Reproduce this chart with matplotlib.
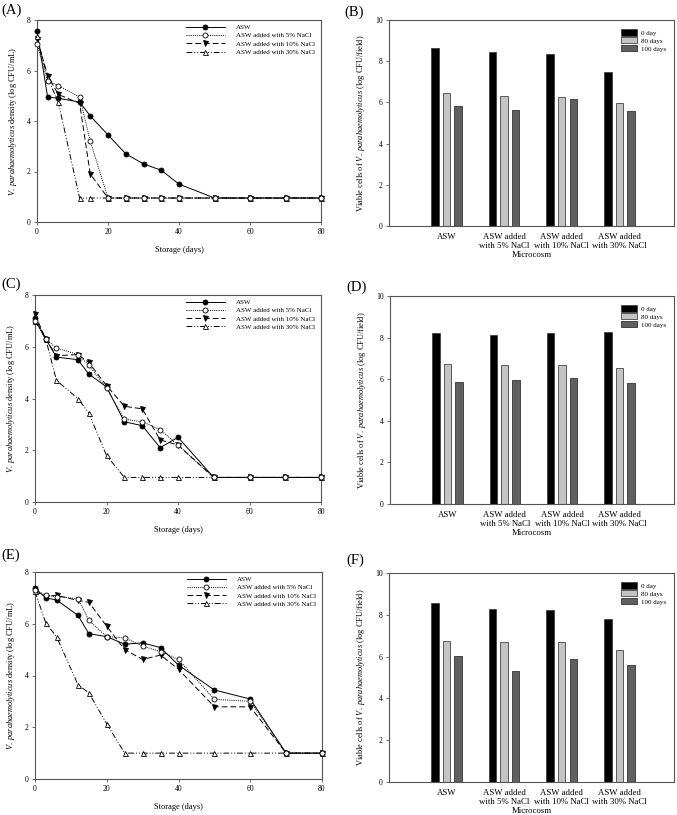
import numpy as np
import matplotlib
matplotlib.use('Agg')
import matplotlib.pyplot as plt
from matplotlib.lines import Line2D

plt.rcParams['font.family'] = ['Liberation Serif', 'DejaVu Serif']
plt.rcParams['mathtext.fontset'] = 'custom'
plt.rcParams['mathtext.rm'] = 'Liberation Serif'
plt.rcParams['mathtext.it'] = 'Liberation Serif:italic'

# Survival curves (log CFU/mL)
days = [0, 3, 6, 12, 15, 20, 25, 30, 35, 40, 50, 60, 70, 80]

asw_a = [7.55, 4.95, 4.9, 4.75, 4.2, 3.45, 2.7, 2.3, 2.05, 1.5, 0.95, 0.95, 0.95, 0.95]
n5_a = [7.05, 5.58, 5.4, 4.95, 3.2, 0.95, 0.95, 0.95, 0.95, 0.95, 0.95, 0.95, 0.95, 0.95]
n10_a = [7.25, 5.8, 5.05, 4.7, 1.9, 0.95, 0.95, 0.95, 0.95, 0.95, 0.95, 0.95, 0.95, 0.95]
n30_a = [7.35, 5.7, 4.75, 0.95, 0.95, 0.95, 0.95, 0.95, 0.95, 0.95, 0.95, 0.95, 0.95, 0.95]

asw_c = [7.1, 6.3, 5.6, 5.5, 4.95, 4.45, 3.1, 2.95, 2.1, 2.5, 0.95, 0.95, 0.95, 0.95]
n5_c = [7.0, 6.3, 5.95, 5.7, 5.3, 4.4, 3.2, 3.1, 2.8, 2.2, 0.95, 0.95, 0.95, 0.95]
n10_c = [7.25, 6.3, 5.65, 5.7, 5.4, 4.5, 3.7, 3.6, 2.4, 2.2, 0.95, 0.95, 0.95, 0.95]
n30_c = [7.0, 6.3, 4.7, 4.0, 3.45, 1.8, 0.95, 0.95, 0.95, 0.95, 0.95, 0.95, 0.95, 0.95]

asw_e = [7.37, 7.0, 6.92, 6.32, 5.62, 5.5, 5.21, 5.26, 5.08, 4.4, 3.44, 3.09, 1.0, 1.0]
n5_e = [7.3, 7.1, 7.05, 6.97, 6.13, 5.5, 5.45, 5.14, 4.92, 4.62, 3.08, 3.0, 1.0, 1.0]
n10_e = [7.25, 7.05, 7.1, 6.9, 6.83, 5.9, 5.0, 4.62, 4.79, 4.24, 2.79, 2.79, 1.0, 1.0]
n30_e = [7.25, 6.03, 5.5, 3.64, 3.33, 2.13, 1.0, 1.0, 1.0, 1.0, 1.0, 1.0, 1.0, 1.0]

series_names = ['ASW', 'ASW added with 5% NaCl', 'ASW added with 10% NaCl', 'ASW added with 30% NaCl']

# Viable cells (log CFU/field)
groups = ['ASW', 'ASW added\nwith 5% NaCl', 'ASW added\nwith 10% NaCl', 'ASW added\nwith 30% NaCl']
bar_names = ['0 day', '80 days', '100 days']
day0_b = [8.66, 8.47, 8.37, 7.48]
day80_b = [6.48, 6.30, 6.25, 5.99]
day100_b = [5.83, 5.62, 6.15, 5.60]
day0_d = [8.24, 8.13, 8.22, 8.27]
day80_d = [6.75, 6.70, 6.69, 6.54]
day100_d = [5.87, 5.98, 6.08, 5.84]
day0_f = [8.57, 8.27, 8.24, 7.82]
day80_f = [6.74, 6.71, 6.69, 6.31]
day100_f = [6.05, 5.30, 5.87, 5.62]

W, H = 677, 815
fig = plt.figure(figsize=(W / 100, H / 100), dpi=100)


def box(l, t, r, b):
    return [l / W, 1 - b / H, (r - l) / W, (b - t) / H]


frame_col = '#555555'
styles = [
    dict(ls='-', marker='o', mfc='black', mec='black'),
    dict(ls=(0, (1, 1.2)), marker='o', mfc='white', mec='black'),
    dict(ls=(0, (6, 3)), marker='v', mfc='black', mec='black'),
    dict(ls=(0, (6, 2, 1, 2, 1, 2)), marker='^', mfc='white', mec='black'),
]


def style_axes(ax):
    for s in ax.spines.values():
        s.set_color(frame_col)
        s.set_linewidth(0.8)
    ax.tick_params(direction='out', length=2.5, width=0.6, color=frame_col,
                   labelsize=5.5, pad=2)


def line_panel(rect, data):
    ax = fig.add_axes(rect)
    # draw order: ASW, 10%, 30%, 5% on top
    for i in [0, 2, 3, 1]:
        st = styles[i]
        ax.plot(days, data[i], color='black', lw=0.7, ls=st['ls'], marker=st['marker'],
                ms=3.6, mfc=st['mfc'], mec=st['mec'], mew=0.6, clip_on=False, zorder=3)
    handles = []
    for st in styles:
        handles.append(Line2D([], [], color='black', lw=0.7, ls=st['ls'], marker=st['marker'],
                              ms=3.6, mfc=st['mfc'], mec=st['mec'], mew=0.6))
    ax.set_xlim(0, 80)
    ax.set_ylim(0, 8)
    ax.set_xticks([0, 20, 40, 60, 80])
    ax.set_yticks([0, 2, 4, 6, 8])
    style_axes(ax)
    ax.set_xlabel('Storage (days)', fontsize=6, labelpad=7)
    ax.set_ylabel(r'$\it{V.\ parahaemolyticus}$ density (log CFU/mL)', fontsize=6, labelpad=6)
    ax.legend(handles, series_names, loc='upper right', frameon=False, fontsize=5,
              handlelength=5.6, handletextpad=1.6, labelspacing=0.35,
              bbox_to_anchor=(1.0, 1.01))
    return ax


def bar_panel(rect, d0, d80, d100):
    ax = fig.add_axes(rect)
    x = np.arange(len(groups))
    w = 0.13
    ax.bar(x - 0.2, d0, w, color='black', edgecolor='#333333', lw=0.5, label=bar_names[0])
    ax.bar(x, d80, w, color='#c4c4c4', edgecolor='#444444', lw=0.6, label=bar_names[1])
    ax.bar(x + 0.2, d100, w, color='#606060', edgecolor='#333333', lw=0.6, label=bar_names[2])
    ax.set_xlim(-1.0, 3.95)
    ax.set_ylim(0, 10)
    ax.set_yticks([0, 2, 4, 6, 8, 10])
    ax.set_xticks(x)
    ax.set_xticklabels(groups, fontsize=6.3, linespacing=1.15)
    style_axes(ax)
    ax.tick_params(axis='x', length=0, labelsize=6.3, pad=5)
    ax.set_xlabel('Microcosm', fontsize=6.3, labelpad=1)
    ax.set_ylabel(r'Viable cells of $\it{V.\ parahaemolyticus}$ (log CFU/field)', fontsize=6, labelpad=6)
    ax.legend(loc='upper right', frameon=False, fontsize=5, handlelength=2.3, handleheight=1.0,
              handletextpad=0.6, labelspacing=0.2, bbox_to_anchor=(0.995, 0.985))
    return ax


line_panel(box(37, 20, 321, 222), [asw_a, n5_a, n10_a, n30_a])
bar_panel(box(389, 20, 674, 226), day0_b, day80_b, day100_b)
line_panel(box(35, 295, 321, 502), [asw_c, n5_c, n10_c, n30_c])
bar_panel(box(390, 296, 674, 504), day0_d, day80_d, day100_d)
line_panel(box(35, 572, 322, 779), [asw_e, n5_e, n10_e, n30_e])
bar_panel(box(389, 573, 674, 782), day0_f, day80_f, day100_f)

for lab, px, py in [('(A)', 1, 10), ('(B)', 344, 12), ('(C)', 1, 284),
                    ('(D)', 346, 287), ('(E)', 1, 555), ('(F)', 346, 560)]:
    fig.text(px / W, 1 - py / H, lab, fontsize=10.5, ha='left', va='center')

fig.savefig('out.png', dpi=100)
